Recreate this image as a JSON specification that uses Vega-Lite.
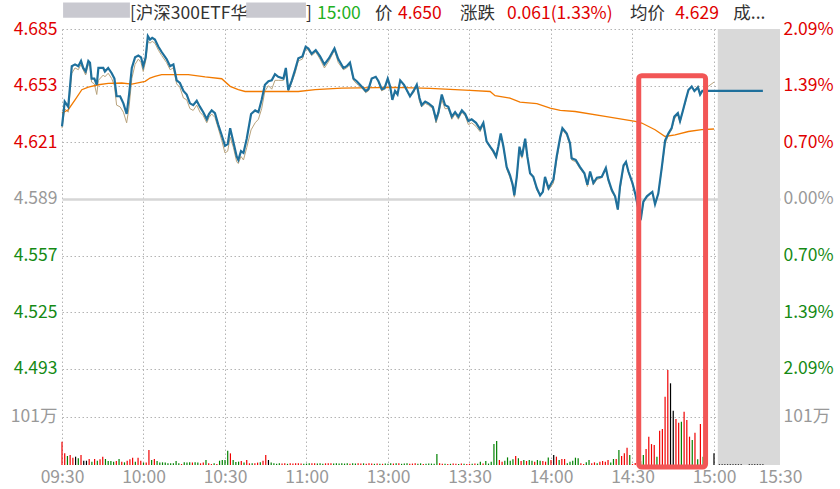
{
  "$schema": "https://vega.github.io/schema/vega-lite/v6.json",
  "width": 718,
  "height": 436,
  "autosize": {"type": "none"},
  "padding": {"left": 62, "top": 29, "right": 60, "bottom": 24},
  "background": "white",
  "config": {
    "view": {"stroke": null},
    "font": "Noto Sans CJK SC",
    "axis": {"labelFont": "Noto Sans CJK SC"},
    "text": {"font": "Noto Sans CJK SC"}
  },
  "datasets": {
    "price": [
      {"m": 0, "p": 4.630, "t": 4.629}, {"m": 1, "p": 4.644, "t": 4.640}, {"m": 2.3, "p": 4.641, "t": 4.638},
      {"m": 3.6, "p": 4.664, "t": 4.660}, {"m": 4.8, "p": 4.665, "t": 4.663}, {"m": 6.0, "p": 4.664, "t": 4.662},
      {"m": 7.0, "p": 4.667, "t": 4.665}, {"m": 7.8, "p": 4.663, "t": 4.662}, {"m": 8.7, "p": 4.661, "t": 4.659},
      {"m": 9.7, "p": 4.667, "t": 4.665}, {"m": 10.3, "p": 4.666, "t": 4.664}, {"m": 10.9, "p": 4.657, "t": 4.655},
      {"m": 11.9, "p": 4.657, "t": 4.654}, {"m": 12.8, "p": 4.6535, "t": 4.648}, {"m": 13.4, "p": 4.663, "t": 4.656},
      {"m": 15.2, "p": 4.663, "t": 4.659}, {"m": 15.8, "p": 4.661, "t": 4.658}, {"m": 17.0, "p": 4.663, "t": 4.660},
      {"m": 18.3, "p": 4.660, "t": 4.657}, {"m": 19.3, "p": 4.657, "t": 4.653}, {"m": 20.1, "p": 4.647, "t": 4.642},
      {"m": 21.4, "p": 4.647, "t": 4.641}, {"m": 22.6, "p": 4.643, "t": 4.638}, {"m": 23.8, "p": 4.637, "t": 4.632},
      {"m": 24.7, "p": 4.648, "t": 4.641}, {"m": 25.7, "p": 4.663, "t": 4.657}, {"m": 26.9, "p": 4.669, "t": 4.665},
      {"m": 28.1, "p": 4.670, "t": 4.668}, {"m": 29.1, "p": 4.669, "t": 4.666}, {"m": 29.9, "p": 4.664, "t": 4.661},
      {"m": 30.8, "p": 4.669, "t": 4.667}, {"m": 31.6, "p": 4.681, "t": 4.678}, {"m": 32.4, "p": 4.679, "t": 4.677},
      {"m": 33.2, "p": 4.680, "t": 4.678}, {"m": 34.2, "p": 4.679, "t": 4.677}, {"m": 35.5, "p": 4.675, "t": 4.673},
      {"m": 36.7, "p": 4.672, "t": 4.670}, {"m": 38.5, "p": 4.668, "t": 4.666}, {"m": 39.8, "p": 4.664, "t": 4.662},
      {"m": 41.0, "p": 4.665, "t": 4.663}, {"m": 42.2, "p": 4.656, "t": 4.654}, {"m": 43.4, "p": 4.6545, "t": 4.652},
      {"m": 44.7, "p": 4.650, "t": 4.646}, {"m": 45.9, "p": 4.648, "t": 4.645}, {"m": 47.1, "p": 4.643, "t": 4.640},
      {"m": 48.3, "p": 4.642, "t": 4.639}, {"m": 49.6, "p": 4.6445, "t": 4.642}, {"m": 50.8, "p": 4.641, "t": 4.638},
      {"m": 52.0, "p": 4.638, "t": 4.636}, {"m": 53.3, "p": 4.634, "t": 4.632}, {"m": 54.1, "p": 4.637, "t": 4.635},
      {"m": 55.1, "p": 4.639, "t": 4.637}, {"m": 56.3, "p": 4.6375, "t": 4.635}, {"m": 57.5, "p": 4.631, "t": 4.629},
      {"m": 58.8, "p": 4.625, "t": 4.622}, {"m": 60.0, "p": 4.619, "t": 4.615}, {"m": 61.0, "p": 4.620, "t": 4.616},
      {"m": 61.9, "p": 4.629, "t": 4.624}, {"m": 63.1, "p": 4.621, "t": 4.618}, {"m": 64.3, "p": 4.613, "t": 4.610},
      {"m": 64.9, "p": 4.611, "t": 4.609}, {"m": 65.9, "p": 4.616, "t": 4.613}, {"m": 66.8, "p": 4.615, "t": 4.611},
      {"m": 68.0, "p": 4.623, "t": 4.618}, {"m": 69.6, "p": 4.637, "t": 4.628}, {"m": 71.1, "p": 4.639, "t": 4.632},
      {"m": 72.3, "p": 4.638, "t": 4.634}, {"m": 73.5, "p": 4.645, "t": 4.640}, {"m": 74.7, "p": 4.6535, "t": 4.650},
      {"m": 76.0, "p": 4.6555, "t": 4.653}, {"m": 77.2, "p": 4.656, "t": 4.651}, {"m": 78.4, "p": 4.6595, "t": 4.656},
      {"m": 79.6, "p": 4.658, "t": 4.656}, {"m": 81.5, "p": 4.657, "t": 4.656}, {"m": 82.4, "p": 4.663, "t": 4.660},
      {"m": 83.3, "p": 4.6505, "t": 4.650}, {"m": 84.6, "p": 4.656, "t": 4.655}, {"m": 85.8, "p": 4.662, "t": 4.660},
      {"m": 87.0, "p": 4.6685, "t": 4.667}, {"m": 88.5, "p": 4.6695, "t": 4.668}, {"m": 89.7, "p": 4.675, "t": 4.674},
      {"m": 90.7, "p": 4.674, "t": 4.673}, {"m": 91.9, "p": 4.671, "t": 4.670}, {"m": 93.4, "p": 4.673, "t": 4.672},
      {"m": 95.0, "p": 4.6695, "t": 4.668}, {"m": 96.6, "p": 4.665, "t": 4.663}, {"m": 98.3, "p": 4.6685, "t": 4.667},
      {"m": 100.3, "p": 4.674, "t": 4.673}, {"m": 101.7, "p": 4.668, "t": 4.666}, {"m": 103.6, "p": 4.663, "t": 4.662},
      {"m": 104.8, "p": 4.664, "t": 4.663}, {"m": 106.0, "p": 4.666, "t": 4.665}, {"m": 107.3, "p": 4.657, "t": 4.656},
      {"m": 108.5, "p": 4.6555, "t": 4.654}, {"m": 110.3, "p": 4.6525, "t": 4.652}, {"m": 111.8, "p": 4.650, "t": 4.649},
      {"m": 112.8, "p": 4.651, "t": 4.650}, {"m": 114.0, "p": 4.657, "t": 4.657}, {"m": 115.5, "p": 4.658, "t": 4.658},
      {"m": 116.5, "p": 4.6555, "t": 4.655}, {"m": 117.7, "p": 4.651, "t": 4.650}, {"m": 118.7, "p": 4.6515, "t": 4.651},
      {"m": 119.9, "p": 4.657, "t": 4.656}, {"m": 120.8, "p": 4.6525, "t": 4.652}, {"m": 121.6, "p": 4.645, "t": 4.646},
      {"m": 122.6, "p": 4.650, "t": 4.649}, {"m": 123.5, "p": 4.648, "t": 4.648}, {"m": 124.5, "p": 4.656, "t": 4.656},
      {"m": 125.9, "p": 4.6535, "t": 4.653}, {"m": 126.9, "p": 4.6505, "t": 4.650}, {"m": 128.1, "p": 4.647, "t": 4.647},
      {"m": 129.4, "p": 4.650, "t": 4.649}, {"m": 130.6, "p": 4.6535, "t": 4.653}, {"m": 131.6, "p": 4.646, "t": 4.644},
      {"m": 132.4, "p": 4.642, "t": 4.641}, {"m": 133.7, "p": 4.644, "t": 4.643}, {"m": 134.9, "p": 4.643, "t": 4.642},
      {"m": 136.5, "p": 4.641, "t": 4.640}, {"m": 137.7, "p": 4.634, "t": 4.632}, {"m": 138.5, "p": 4.6375, "t": 4.636},
      {"m": 139.8, "p": 4.648, "t": 4.645}, {"m": 141.0, "p": 4.642, "t": 4.640}, {"m": 142.2, "p": 4.641, "t": 4.640},
      {"m": 143.5, "p": 4.6355, "t": 4.634}, {"m": 144.7, "p": 4.638, "t": 4.637}, {"m": 145.9, "p": 4.6355, "t": 4.634},
      {"m": 147.2, "p": 4.639, "t": 4.638}, {"m": 148.4, "p": 4.637, "t": 4.636}, {"m": 149.6, "p": 4.633, "t": 4.631},
      {"m": 150.8, "p": 4.634, "t": 4.632}, {"m": 152.4, "p": 4.632, "t": 4.630}, {"m": 153.9, "p": 4.6285, "t": 4.627},
      {"m": 155.1, "p": 4.632, "t": 4.631}, {"m": 156.3, "p": 4.6215, "t": 4.621}, {"m": 157.6, "p": 4.6185, "t": 4.618},
      {"m": 158.8, "p": 4.616, "t": 4.615}, {"m": 159.8, "p": 4.613, "t": 4.612}, {"m": 160.6, "p": 4.6185, "t": 4.618},
      {"m": 161.5, "p": 4.626, "t": 4.625}, {"m": 162.5, "p": 4.6185, "t": 4.618}, {"m": 163.7, "p": 4.607, "t": 4.606},
      {"m": 164.9, "p": 4.6025, "t": 4.601}, {"m": 165.9, "p": 4.597, "t": 4.596}, {"m": 166.5, "p": 4.591, "t": 4.590},
      {"m": 167.4, "p": 4.6015, "t": 4.601}, {"m": 168.4, "p": 4.6185, "t": 4.617}, {"m": 169.3, "p": 4.613, "t": 4.612},
      {"m": 170.5, "p": 4.623, "t": 4.622}, {"m": 171.3, "p": 4.613, "t": 4.612}, {"m": 172.3, "p": 4.6035, "t": 4.603},
      {"m": 173.5, "p": 4.6015, "t": 4.601}, {"m": 174.8, "p": 4.595, "t": 4.594}, {"m": 176.0, "p": 4.591, "t": 4.591},
      {"m": 177.0, "p": 4.593, "t": 4.593}, {"m": 177.8, "p": 4.6015, "t": 4.600}, {"m": 179.1, "p": 4.595, "t": 4.594},
      {"m": 180.9, "p": 4.600, "t": 4.598}, {"m": 182.1, "p": 4.613, "t": 4.611}, {"m": 183.4, "p": 4.624, "t": 4.623},
      {"m": 184.2, "p": 4.629, "t": 4.628}, {"m": 185.8, "p": 4.626, "t": 4.625}, {"m": 187.0, "p": 4.6205, "t": 4.619},
      {"m": 187.6, "p": 4.612, "t": 4.611}, {"m": 189.1, "p": 4.611, "t": 4.610}, {"m": 190.7, "p": 4.607, "t": 4.606},
      {"m": 192.3, "p": 4.6035, "t": 4.603}, {"m": 193.4, "p": 4.597, "t": 4.596}, {"m": 194.4, "p": 4.6045, "t": 4.604},
      {"m": 195.6, "p": 4.598, "t": 4.597}, {"m": 196.9, "p": 4.601, "t": 4.600}, {"m": 198.7, "p": 4.6015, "t": 4.601},
      {"m": 200.2, "p": 4.6065, "t": 4.606}, {"m": 201.1, "p": 4.600, "t": 4.599}, {"m": 202.4, "p": 4.594, "t": 4.593},
      {"m": 203.6, "p": 4.5905, "t": 4.590}, {"m": 204.6, "p": 4.583, "t": 4.583}, {"m": 205.4, "p": 4.596, "t": 4.594},
      {"m": 206.7, "p": 4.608, "t": 4.607}, {"m": 207.6, "p": 4.610, "t": 4.609}, {"m": 208.5, "p": 4.6045, "t": 4.604},
      {"m": 210.0, "p": 4.598, "t": 4.597}, {"m": 211.0, "p": 4.592, "t": 4.592}, {"m": 212.2, "p": 4.583, "t": 4.583},
      {"m": 213.2, "p": 4.579, "t": 4.579}, {"m": 214.0, "p": 4.5875, "t": 4.587}, {"m": 215.3, "p": 4.5905, "t": 4.590},
      {"m": 216.5, "p": 4.592, "t": 4.592}, {"m": 217.3, "p": 4.593, "t": 4.593}, {"m": 218.3, "p": 4.586, "t": 4.586},
      {"m": 219.5, "p": 4.592, "t": 4.592}, {"m": 220.8, "p": 4.607, "t": 4.606}, {"m": 222.0, "p": 4.622, "t": 4.620},
      {"m": 223.2, "p": 4.626, "t": 4.625}, {"m": 224.4, "p": 4.629, "t": 4.628}, {"m": 225.4, "p": 4.6355, "t": 4.634},
      {"m": 226.7, "p": 4.6375, "t": 4.637}, {"m": 227.5, "p": 4.633, "t": 4.632}, {"m": 228.4, "p": 4.638, "t": 4.638},
      {"m": 229.6, "p": 4.645, "t": 4.644}, {"m": 230.6, "p": 4.6505, "t": 4.651}, {"m": 231.8, "p": 4.6525, "t": 4.652},
      {"m": 232.8, "p": 4.650, "t": 4.650}, {"m": 234.1, "p": 4.652, "t": 4.653}, {"m": 234.9, "p": 4.648, "t": 4.649},
      {"m": 235.7, "p": 4.650, "t": 4.650}, {"m": 236.5, "p": 4.650, "t": 4.651}, {"m": 240, "p": 4.650, "t": 4.655},
      {"m": 258, "p": 4.650}
    ],
    "avg": [
      {"m": 0, "a": 4.6375}, {"m": 2.3, "a": 4.6394}, {"m": 4.8, "a": 4.645}, {"m": 7.3, "a": 4.6507},
      {"m": 9.7, "a": 4.6522}, {"m": 13.4, "a": 4.6535}, {"m": 17.0, "a": 4.6543}, {"m": 22.0, "a": 4.6545},
      {"m": 25.7, "a": 4.6539}, {"m": 30.6, "a": 4.6554}, {"m": 32.4, "a": 4.6573}, {"m": 34.2, "a": 4.6582},
      {"m": 36.7, "a": 4.6592}, {"m": 46.5, "a": 4.6592}, {"m": 52.7, "a": 4.6579}, {"m": 58.8, "a": 4.6569},
      {"m": 61.9, "a": 4.6526}, {"m": 64.9, "a": 4.6507}, {"m": 67.4, "a": 4.6497}, {"m": 87.0, "a": 4.6497},
      {"m": 93.2, "a": 4.6507}, {"m": 103.0, "a": 4.6516}, {"m": 122.6, "a": 4.652}, {"m": 135.5, "a": 4.6515},
      {"m": 150.2, "a": 4.6503}, {"m": 157.6, "a": 4.6497}, {"m": 159.4, "a": 4.6473}, {"m": 164.9, "a": 4.646},
      {"m": 168.6, "a": 4.6437}, {"m": 174.8, "a": 4.6428}, {"m": 179.7, "a": 4.6403}, {"m": 183.4, "a": 4.639},
      {"m": 188.9, "a": 4.6384}, {"m": 199.9, "a": 4.6356}, {"m": 211.0, "a": 4.6328}, {"m": 213.4, "a": 4.6319},
      {"m": 218.3, "a": 4.6281}, {"m": 222.0, "a": 4.6243}, {"m": 225.7, "a": 4.6252}, {"m": 230.6, "a": 4.6271},
      {"m": 235.5, "a": 4.6281}, {"m": 240, "a": 4.6285}
    ],
    "vol": [
      {"m": 0, "v": 49, "d": "u"}, {"m": 1, "v": 24.6, "d": "u"}, {"m": 2, "v": 19, "d": "d"}, {"m": 3, "v": 21, "d": "u"},
      {"m": 4, "v": 15.4, "d": "u"}, {"m": 5, "v": 17.5, "d": "n"}, {"m": 6, "v": 14, "d": "d"}, {"m": 7, "v": 21, "d": "u"},
      {"m": 8, "v": 9, "d": "n"}, {"m": 9, "v": 9, "d": "n"}, {"m": 10, "v": 12.6, "d": "u"}, {"m": 11, "v": 7, "d": "d"},
      {"m": 12, "v": 12.6, "d": "u"}, {"m": 13, "v": 9, "d": "d"}, {"m": 14, "v": 12, "d": "u"}, {"m": 15, "v": 17.5, "d": "u"},
      {"m": 16, "v": 12.6, "d": "d"}, {"m": 17, "v": 8.4, "d": "d"}, {"m": 18, "v": 8.4, "d": "d"}, {"m": 19, "v": 7, "d": "d"},
      {"m": 20, "v": 8.4, "d": "u"}, {"m": 21, "v": 12.6, "d": "d"}, {"m": 22, "v": 7, "d": "u"}, {"m": 23, "v": 5.6, "d": "d"},
      {"m": 24, "v": 9, "d": "u"}, {"m": 25, "v": 12, "d": "u"}, {"m": 26, "v": 15.4, "d": "u"}, {"m": 27, "v": 7, "d": "d"},
      {"m": 28, "v": 15.4, "d": "u"}, {"m": 29, "v": 9, "d": "u"}, {"m": 30, "v": 5, "d": "d"}, {"m": 31, "v": 5, "d": "u"},
      {"m": 32, "v": 31.6, "d": "u"}, {"m": 33, "v": 10.5, "d": "d"}, {"m": 34, "v": 12.6, "d": "u"}, {"m": 35, "v": 8.4, "d": "d"},
      {"m": 36, "v": 5, "d": "d"}, {"m": 37, "v": 5.6, "d": "d"}, {"m": 38, "v": 5, "d": "d"}, {"m": 39, "v": 3.5, "d": "d"},
      {"m": 40, "v": 3.5, "d": "d"}, {"m": 41, "v": 3.5, "d": "d"}, {"m": 42, "v": 8.4, "d": "d"}, {"m": 43, "v": 3.5, "d": "d"},
      {"m": 44, "v": 2, "d": "u"}, {"m": 45, "v": 5.6, "d": "d"}, {"m": 46, "v": 5, "d": "d"}, {"m": 47, "v": 5.6, "d": "d"},
      {"m": 48, "v": 5, "d": "u"}, {"m": 49, "v": 5.6, "d": "d"}, {"m": 50, "v": 5, "d": "d"}, {"m": 51, "v": 3.5, "d": "u"},
      {"m": 52, "v": 5, "d": "u"}, {"m": 53, "v": 10.5, "d": "d"}, {"m": 54, "v": 3.5, "d": "u"}, {"m": 55, "v": 2, "d": "u"},
      {"m": 56, "v": 3.5, "d": "d"}, {"m": 57, "v": 2, "d": "u"}, {"m": 58, "v": 9, "d": "d"}, {"m": 59, "v": 10.5, "d": "d"},
      {"m": 60, "v": 10.5, "d": "d"}, {"m": 61, "v": 30, "d": "d"}, {"m": 62, "v": 24.5, "d": "u"}, {"m": 63, "v": 10.5, "d": "d"},
      {"m": 64, "v": 6.3, "d": "d"}, {"m": 65, "v": 7, "d": "d"}, {"m": 66, "v": 8.4, "d": "u"}, {"m": 67, "v": 5, "d": "d"},
      {"m": 68, "v": 10.5, "d": "u"}, {"m": 69, "v": 3.5, "d": "u"}, {"m": 70, "v": 3.5, "d": "d"}, {"m": 71, "v": 3.5, "d": "u"},
      {"m": 72, "v": 5, "d": "u"}, {"m": 73, "v": 5.6, "d": "d"}, {"m": 74, "v": 9, "d": "u"}, {"m": 75, "v": 21, "d": "u"},
      {"m": 76, "v": 10.5, "d": "n"}, {"m": 77, "v": 5, "d": "d"}, {"m": 78, "v": 3.5, "d": "d"}, {"m": 79, "v": 2.5, "d": "d"},
      {"m": 80, "v": 3.5, "d": "d"}, {"m": 81, "v": 3, "d": "u"}, {"m": 82, "v": 3.5, "d": "u"}, {"m": 83, "v": 2.5, "d": "d"},
      {"m": 84, "v": 3.5, "d": "u"}, {"m": 85, "v": 3, "d": "u"}, {"m": 86, "v": 3.5, "d": "u"}, {"m": 87, "v": 3.5, "d": "u"},
      {"m": 88, "v": 3, "d": "u"}, {"m": 89, "v": 2.5, "d": "d"}, {"m": 90, "v": 3, "d": "d"}, {"m": 91, "v": 3.5, "d": "d"},
      {"m": 92, "v": 3.5, "d": "u"}, {"m": 93, "v": 3.5, "d": "u"}, {"m": 94, "v": 3, "d": "d"}, {"m": 95, "v": 3.5, "d": "d"},
      {"m": 96, "v": 2.5, "d": "d"}, {"m": 97, "v": 3.5, "d": "u"}, {"m": 98, "v": 3.5, "d": "u"}, {"m": 99, "v": 3.5, "d": "u"},
      {"m": 100, "v": 3, "d": "d"}, {"m": 101, "v": 3.5, "d": "d"}, {"m": 102, "v": 3, "d": "d"}, {"m": 103, "v": 3.5, "d": "d"},
      {"m": 104, "v": 3, "d": "d"}, {"m": 105, "v": 3.5, "d": "d"}, {"m": 106, "v": 2.5, "d": "u"}, {"m": 107, "v": 3.5, "d": "d"},
      {"m": 108, "v": 3, "d": "d"}, {"m": 109, "v": 3.5, "d": "u"}, {"m": 110, "v": 3, "d": "u"}, {"m": 111, "v": 3.5, "d": "d"},
      {"m": 112, "v": 2.5, "d": "u"}, {"m": 113, "v": 3.5, "d": "u"}, {"m": 114, "v": 3, "d": "u"}, {"m": 115, "v": 2.5, "d": "d"},
      {"m": 116, "v": 3, "d": "u"}, {"m": 117, "v": 2.5, "d": "d"}, {"m": 118, "v": 2.5, "d": "u"}, {"m": 119, "v": 3, "d": "d"},
      {"m": 120, "v": 2.5, "d": "d"}, {"m": 121, "v": 3.5, "d": "d"}, {"m": 122, "v": 3, "d": "u"}, {"m": 123, "v": 3.5, "d": "d"},
      {"m": 124, "v": 3.5, "d": "u"}, {"m": 125, "v": 2.5, "d": "d"}, {"m": 126, "v": 3, "d": "d"}, {"m": 127, "v": 3.5, "d": "d"},
      {"m": 128, "v": 2.5, "d": "u"}, {"m": 129, "v": 3, "d": "u"}, {"m": 130, "v": 3.5, "d": "u"}, {"m": 131, "v": 2.5, "d": "d"},
      {"m": 132, "v": 3.5, "d": "d"}, {"m": 133, "v": 2, "d": "u"}, {"m": 134, "v": 2.5, "d": "d"}, {"m": 135, "v": 3, "d": "d"},
      {"m": 136, "v": 3, "d": "d"}, {"m": 137, "v": 2.5, "d": "d"}, {"m": 138, "v": 23, "d": "d"}, {"m": 139, "v": 3.5, "d": "u"},
      {"m": 140, "v": 2.5, "d": "u"}, {"m": 141, "v": 2.5, "d": "d"}, {"m": 142, "v": 2, "d": "u"}, {"m": 143, "v": 2.5, "d": "d"},
      {"m": 144, "v": 3, "d": "u"}, {"m": 145, "v": 2.5, "d": "u"}, {"m": 146, "v": 2, "d": "d"}, {"m": 147, "v": 3, "d": "u"},
      {"m": 148, "v": 2.5, "d": "d"}, {"m": 149, "v": 2, "d": "u"}, {"m": 150, "v": 2.5, "d": "u"}, {"m": 151, "v": 2.5, "d": "d"},
      {"m": 152, "v": 3, "d": "u"}, {"m": 153, "v": 2.5, "d": "d"}, {"m": 154, "v": 7, "d": "d"}, {"m": 155, "v": 3, "d": "u"},
      {"m": 156, "v": 8.4, "d": "d"}, {"m": 157, "v": 3, "d": "d"}, {"m": 158, "v": 7, "d": "d"}, {"m": 159, "v": 44, "d": "d"},
      {"m": 160, "v": 50.5, "d": "d"}, {"m": 161, "v": 10.5, "d": "u"}, {"m": 162, "v": 7, "d": "u"}, {"m": 163, "v": 9, "d": "d"},
      {"m": 164, "v": 16, "d": "d"}, {"m": 165, "v": 9, "d": "d"}, {"m": 166, "v": 12, "d": "d"}, {"m": 167, "v": 19, "d": "u"},
      {"m": 168, "v": 14, "d": "d"}, {"m": 169, "v": 8.4, "d": "u"}, {"m": 170, "v": 10.5, "d": "d"}, {"m": 171, "v": 8.4, "d": "u"},
      {"m": 172, "v": 10.5, "d": "d"}, {"m": 173, "v": 9, "d": "d"}, {"m": 174, "v": 7, "d": "u"}, {"m": 175, "v": 10.5, "d": "d"},
      {"m": 176, "v": 9, "d": "d"}, {"m": 177, "v": 8.4, "d": "u"}, {"m": 178, "v": 7, "d": "u"}, {"m": 179, "v": 16, "d": "d"},
      {"m": 180, "v": 10.5, "d": "u"}, {"m": 181, "v": 21, "d": "n"}, {"m": 182, "v": 17.5, "d": "u"}, {"m": 183, "v": 10.5, "d": "d"},
      {"m": 184, "v": 12.6, "d": "u"}, {"m": 185, "v": 12.6, "d": "u"}, {"m": 186, "v": 3.5, "d": "d"}, {"m": 187, "v": 7, "d": "d"},
      {"m": 188, "v": 9, "d": "d"}, {"m": 189, "v": 15.4, "d": "d"}, {"m": 190, "v": 14, "d": "d"}, {"m": 191, "v": 3.5, "d": "u"},
      {"m": 192, "v": 2, "d": "u"}, {"m": 193, "v": 5.6, "d": "d"}, {"m": 194, "v": 10.5, "d": "d"}, {"m": 195, "v": 3.5, "d": "u"},
      {"m": 196, "v": 5.6, "d": "u"}, {"m": 197, "v": 3.5, "d": "d"}, {"m": 198, "v": 7, "d": "u"}, {"m": 199, "v": 8.4, "d": "u"},
      {"m": 200, "v": 7, "d": "u"}, {"m": 201, "v": 10.5, "d": "u"}, {"m": 202, "v": 5, "d": "d"}, {"m": 203, "v": 12.6, "d": "d"},
      {"m": 204, "v": 12.6, "d": "u"}, {"m": 205, "v": 31.6, "d": "d"}, {"m": 206, "v": 19, "d": "u"}, {"m": 207, "v": 24.5, "d": "u"},
      {"m": 208, "v": 36.5, "d": "u"}, {"m": 209, "v": 21, "d": "d"}, {"m": 210, "v": 2, "d": "u"}, {"m": 211, "v": 4, "d": "u"},
      {"m": 212, "v": 5, "d": "d"}, {"m": 213, "v": 8, "d": "d"}, {"m": 214, "v": 21, "d": "d"}, {"m": 215, "v": 33.7, "d": "u"},
      {"m": 216, "v": 59.6, "d": "u"}, {"m": 217, "v": 44, "d": "u"}, {"m": 218, "v": 42, "d": "u"}, {"m": 219, "v": 17.5, "d": "d"},
      {"m": 220, "v": 72, "d": "u"}, {"m": 221, "v": 75.8, "d": "u"}, {"m": 222, "v": 143.8, "d": "u"}, {"m": 223, "v": 200, "d": "u"},
      {"m": 224, "v": 171.9, "d": "n"}, {"m": 225, "v": 114.3, "d": "n"}, {"m": 226, "v": 96.8, "d": "u"}, {"m": 227, "v": 89, "d": "u"},
      {"m": 228, "v": 91, "d": "d"}, {"m": 229, "v": 112.2, "d": "u"}, {"m": 230, "v": 94.7, "d": "u"}, {"m": 231, "v": 59.6, "d": "u"},
      {"m": 232, "v": 52.6, "d": "d"}, {"m": 233, "v": 68, "d": "u"}, {"m": 234, "v": 12, "d": "d"}, {"m": 235, "v": 86.3, "d": "u"},
      {"m": 236, "v": 17.5, "d": "d"}, {"m": 240, "v": 24.6, "d": "n"},
      {"m": 242, "v": 1.5, "d": "n"}, {"m": 243, "v": 1.5, "d": "n"}, {"m": 244, "v": 1.5, "d": "n"}, {"m": 245, "v": 1.5, "d": "n"},
      {"m": 246, "v": 1.5, "d": "n"}, {"m": 247, "v": 1.5, "d": "n"}, {"m": 248, "v": 1.5, "d": "n"}, {"m": 249, "v": 1.5, "d": "n"},
      {"m": 250, "v": 1.5, "d": "n"}, {"m": 253, "v": 1.5, "d": "n"}, {"m": 254, "v": 1.5, "d": "n"}, {"m": 255, "v": 1.5, "d": "n"},
      {"m": 256, "v": 1.5, "d": "n"}, {"m": 257, "v": 1.5, "d": "n"}, {"m": 258, "v": 1.5, "d": "n"}
    ]
  },
  "layer": [
    {
      "data": {"values": [{"m": 241.4, "m2": 264.3}]},
      "mark": {"type": "rect", "color": "#d9d9d9"},
      "encoding": {
        "x": {
          "field": "m",
          "type": "quantitative",
          "scale": {"domain": [0, 264.3], "nice": false, "zero": false},
          "axis": {
            "orient": "bottom",
            "title": null,
            "values": [0, 30, 60, 90, 120, 150, 180, 210, 240, 264.3],
            "labelExpr": "datum.value > 250 ? '15:30' : ['09:30','10:00','10:30','11:00','13:00','13:30','14:00','14:30','15:00'][round(datum.value / 30)]",
            "domain": false,
            "ticks": false,
            "labelPadding": 3,
            "labelFontSize": 17.5,
            "labelColor": "#999999",
            "labelFlush": false,
            "labelOverlap": false,
            "grid": true,
            "gridColor": "#b4b4b4",
            "gridDash": [1.5, 2.5],
            "gridOpacity": {"condition": {"test": "datum.value > 250", "value": 0}, "value": 1}
          }
        },
        "x2": {"field": "m2"}
      }
    },
    {
      "data": {"name": "vol"},
      "mark": {"type": "rule", "strokeWidth": 1.2},
      "encoding": {
        "x": {"field": "m", "type": "quantitative"},
        "y": {"field": "v", "type": "quantitative", "scale": {"domain": [0, 917.4], "nice": false}, "axis": null},
        "y2": {"datum": 0},
        "color": {
          "field": "d",
          "type": "nominal",
          "scale": {"domain": ["u", "d", "n"], "range": ["#f00000", "#008000", "#000000"]},
          "legend": null
        }
      }
    },
    {
      "data": {"name": "price"},
      "mark": {"type": "line", "color": "#b9a37c", "strokeWidth": 1},
      "encoding": {
        "x": {"field": "m", "type": "quantitative"},
        "y": {
          "field": "t",
          "type": "quantitative",
          "scale": {"domain": [4.4387, 4.685], "nice": false, "zero": false},
          "axis": {
            "orient": "right",
            "title": null,
            "values": [4.46586, 4.493, 4.525, 4.557, 4.589, 4.621, 4.653, 4.685],
            "labelExpr": "datum.value < 4.48 ? '101万' : format(abs(datum.value - 4.589) / 4.589 * 100, '.2f') + '%'",
            "domain": false,
            "ticks": false,
            "grid": false,
            "labelPadding": 3,
            "labelFontSize": 17.5,
            "labelFlush": false,
            "labelOverlap": false,
            "labelColor": {
              "condition": [
                {"test": "datum.value > 4.59", "value": "#e00000"},
                {"test": "datum.value < 4.48 || abs(datum.value - 4.589) < 0.0005", "value": "#999999"}
              ],
              "value": "#158a15"
            }
          }
        }
      }
    },
    {
      "layer": [
        {
          "data": {"name": "avg"},
          "mark": {"type": "line", "color": "#f27a00", "strokeWidth": 1.3},
          "encoding": {
            "x": {"field": "m", "type": "quantitative"},
            "y": {"field": "a", "type": "quantitative", "scale": {"domain": [4.4387, 4.685], "nice": false, "zero": false}}
          }
        },
        {
          "data": {"name": "price"},
          "mark": {"type": "line", "color": "#1f709c", "strokeWidth": 2.2},
          "encoding": {
            "x": {"field": "m", "type": "quantitative"},
            "y": {
              "field": "p",
              "type": "quantitative",
              "scale": {"domain": [4.4387, 4.685], "nice": false, "zero": false},
              "axis": {
                "orient": "left",
                "title": null,
                "values": [4.46586, 4.493, 4.525, 4.557, 4.589, 4.621, 4.653, 4.685],
                "labelExpr": "datum.value < 4.48 ? '101万' : format(datum.value, '.3f')",
                "domain": false,
                "ticks": false,
                "labelPadding": 5,
                "labelFontSize": 17.5,
                "labelFlush": false,
                "labelOverlap": false,
                "labelColor": {
                  "condition": [
                    {"test": "datum.value > 4.59", "value": "#e00000"},
                    {"test": "datum.value < 4.48 || abs(datum.value - 4.589) < 0.0005", "value": "#999999"}
                  ],
                  "value": "#158a15"
                },
                "grid": true,
                "gridColor": {"condition": {"test": "abs(datum.value - 4.589) < 0.0005", "value": "#d6d6d6"}, "value": "#b4b4b4"},
                "gridWidth": {"condition": {"test": "abs(datum.value - 4.589) < 0.0005", "value": 2.5}, "value": 1},
                "gridDash": {"condition": {"test": "abs(datum.value - 4.589) < 0.0005", "value": []}, "value": [1.5, 2.5]}
              }
            }
          }
        },
        {
          "data": {"values": [{"label": "box"}]},
          "mark": {"type": "rect", "fill": null, "filled": false, "stroke": "#f25656", "strokeWidth": 5, "cornerRadius": 3},
          "encoding": {
            "x": {"datum": 212.3, "type": "quantitative"},
            "x2": {"datum": 236.9},
            "y": {"datum": 4.6586, "type": "quantitative"},
            "y2": {"datum": 4.4375}
          }
        },
        {
          "data": {"values": [{"label": "[沪深300ETF华"}]},
          "mark": {"type": "text", "align": "left", "baseline": "middle", "fontSize": 17.5, "color": "#333333"},
          "encoding": {"text": {"field": "label"}, "x": {"datum": 25.0, "type": "quantitative"}, "y": {"datum": 4.6934, "type": "quantitative"}}
        },
        {
          "data": {"values": [{"label": "blur"}]},
          "mark": {"type": "rect", "color": "#c3c3cb", "opacity": 0.9},
          "encoding": {
            "x": {"datum": 0.4, "type": "quantitative"},
            "x2": {"datum": 25.0},
            "y": {"datum": 4.6999, "type": "quantitative"},
            "y2": {"datum": 4.6914}
          }
        },
        {
          "data": {"values": [{"label": "blur"}]},
          "mark": {"type": "rect", "color": "#c3c3cb", "opacity": 0.9},
          "encoding": {
            "x": {"datum": 67.8, "type": "quantitative"},
            "x2": {"datum": 89.8},
            "y": {"datum": 4.6999, "type": "quantitative"},
            "y2": {"datum": 4.6914}
          }
        },
        {
          "data": {"values": [{"label": "]"}]},
          "mark": {"type": "text", "align": "left", "baseline": "middle", "fontSize": 17.5, "color": "#333333"},
          "encoding": {"text": {"field": "label"}, "x": {"datum": 89.8, "type": "quantitative"}, "y": {"datum": 4.6934, "type": "quantitative"}}
        },
        {
          "data": {"values": [{"label": "15:00"}]},
          "mark": {"type": "text", "align": "left", "baseline": "middle", "fontSize": 17.5, "color": "#22b022"},
          "encoding": {"text": {"field": "label"}, "x": {"datum": 93.9, "type": "quantitative"}, "y": {"datum": 4.6934, "type": "quantitative"}}
        },
        {
          "data": {"values": [{"label": "价"}]},
          "mark": {"type": "text", "align": "left", "baseline": "middle", "fontSize": 17.5, "color": "#333333"},
          "encoding": {"text": {"field": "label"}, "x": {"datum": 115.2, "type": "quantitative"}, "y": {"datum": 4.6934, "type": "quantitative"}}
        },
        {
          "data": {"values": [{"label": "4.650"}]},
          "mark": {"type": "text", "align": "left", "baseline": "middle", "fontSize": 17.5, "color": "#e00000"},
          "encoding": {"text": {"field": "label"}, "x": {"datum": 123.7, "type": "quantitative"}, "y": {"datum": 4.6934, "type": "quantitative"}}
        },
        {
          "data": {"values": [{"label": "涨跌"}]},
          "mark": {"type": "text", "align": "left", "baseline": "middle", "fontSize": 17.5, "color": "#333333"},
          "encoding": {"text": {"field": "label"}, "x": {"datum": 146.5, "type": "quantitative"}, "y": {"datum": 4.6934, "type": "quantitative"}}
        },
        {
          "data": {"values": [{"label": "0.061(1.33%)"}]},
          "mark": {"type": "text", "align": "left", "baseline": "middle", "fontSize": 17.5, "color": "#e00000"},
          "encoding": {"text": {"field": "label"}, "x": {"datum": 163.8, "type": "quantitative"}, "y": {"datum": 4.6934, "type": "quantitative"}}
        },
        {
          "data": {"values": [{"label": "均价"}]},
          "mark": {"type": "text", "align": "left", "baseline": "middle", "fontSize": 17.5, "color": "#333333"},
          "encoding": {"text": {"field": "label"}, "x": {"datum": 209.1, "type": "quantitative"}, "y": {"datum": 4.6934, "type": "quantitative"}}
        },
        {
          "data": {"values": [{"label": "4.629"}]},
          "mark": {"type": "text", "align": "left", "baseline": "middle", "fontSize": 17.5, "color": "#e00000"},
          "encoding": {"text": {"field": "label"}, "x": {"datum": 225.7, "type": "quantitative"}, "y": {"datum": 4.6934, "type": "quantitative"}}
        },
        {
          "data": {"values": [{"label": "成..."}]},
          "mark": {"type": "text", "align": "left", "baseline": "middle", "fontSize": 17.5, "color": "#333333"},
          "encoding": {"text": {"field": "label"}, "x": {"datum": 247.1, "type": "quantitative"}, "y": {"datum": 4.6934, "type": "quantitative"}}
        }
      ]
    }
  ],
  "resolve": {"scale": {"y": "independent"}}
}
